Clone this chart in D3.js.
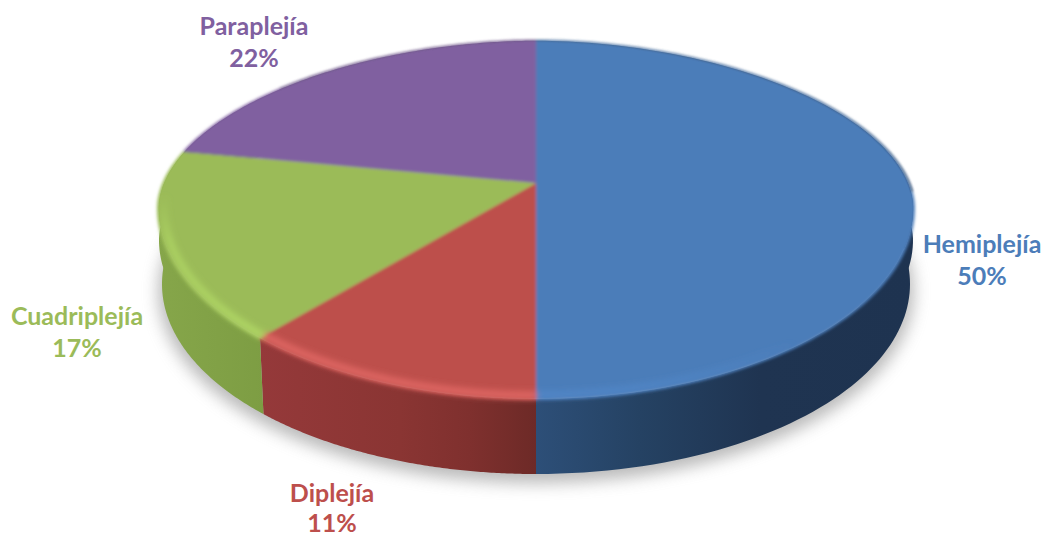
<!DOCTYPE html>
<html lang="es">
<head>
<meta charset="utf-8">
<title>Tipos de parálisis</title>
<script src="https://cdn.jsdelivr.net/npm/d3@7"></script>
<style>
  html, body { margin: 0; padding: 0; background: #fff; }
  svg { display: block; }
  text { font-family: Lato, "Open Sans", sans-serif; font-weight: 700; text-anchor: middle; }
</style>
</head>
<body>
<svg id="chart" width="1043" height="536"></svg>
<script>
// Clockwise from twelve o'clock.
const categories = ["Hemiplejía", "Diplejía", "Cuadriplejía", "Paraplejía"];
const percents = [50, 11, 17, 22];
const colors = ["#4c7db9", "#bd4f4c", "#9bbb59", "#8060a0"];

// Horizontal shading of the outer wall: [x, colour]
const wallStops = [
  [[536, "#2d4f78"], [640, "#254263"], [760, "#1f3451"], [915, "#1e3350"]],
  [[260, "#95393a"], [400, "#8a3533"], [470, "#7f302e"], [536, "#6d2a27"]],
  [[157, "#86a64a"], [266, "#7d9d43"]],
  [[157, "#5d4676"], [536, "#5d4676"]]
];

// Rim highlight of each slice, faded vertically: [y, opacity]
const rimColors = ["#5a96de", "#e56a66", "#b0d765", "#8060a0"];
const rimStops = [
  [[340, 0], [400, 0.4]],
  [[330, 0.9], [400, 0.9]],
  [[195, 0], [240, 0.8], [330, 1]],
  [[0, 0], [500, 0]]
];
const rimRadius = [0.975, 0.978, 0.982, 0.97];

// Label layout: centre x and the baselines of the two lines
const labelX = [982, 332, 77, 254];
const labelY = [[253, 285], [502, 532], [325, 357], [35, 67]];
const labelSize = 25;

const svg = d3.select("#chart");
const defs = svg.append("defs");

// Foreshortened directions of the pie's radii on the tilted disc
const rayX = d3.scaleLinear().domain([-1, 1]).range([-371, 371]);
const rayY = d3.scaleLinear().domain([-1, 1]).range([172.4, -172.4]);

// One ring of the drum: radii leave the ring's apex and stop at its outline.
function ring({ cx, cy, rx, up, down, apexY, curve }) {
  const inside = (x, y) => {
    const ny = (y - cy) / (y < cy ? up : down);
    const e = y < cy ? curve : 2;
    return Math.pow(Math.abs((x - cx) / rx), e) + Math.pow(Math.abs(ny), e) <= 1;
  };
  return (angle, r = 1) => {
    const dx = rayX(Math.sin(angle)), dy = rayY(Math.cos(angle));
    let lo = 0, hi = 3;
    for (let i = 0; i < 30; i++) {
      const t = (lo + hi) / 2;
      if (inside(cx + t * dx, apexY + t * dy)) lo = t; else hi = t;
    }
    return [cx + lo * r * dx, apexY + lo * r * dy];
  };
}
const face = ring({ cx: 536, cy: 208, rx: 379, up: 168, down: 192, apexY: 183, curve: 1.9 });
const shoulder = ring({ cx: 536, cy: 240, rx: 377, up: 168, down: 185, apexY: 215, curve: 1.9 });
const base = ring({ cx: 536, cy: 284, rx: 374, up: 190, down: 190, apexY: 261, curve: 2 });

const line = d3.line();
const arcPoints = (proj, a0, a1, r = 1) =>
  d3.range(0, 121).map(i => proj(a0 + (a1 - a0) * i / 120, r));

const slices = d3.pie().sort(null).value(d => d)(percents);
const fullTurn = [0, 2 * Math.PI];

function addBlur(id, dev) {
  defs.append("filter").attr("id", id)
    .attr("filterUnits", "userSpaceOnUse")
    .attr("x", 0).attr("y", 0).attr("width", 1043).attr("height", 536)
    .append("feGaussianBlur").attr("stdDeviation", dev);
}
addBlur("blurShadow", 8);
addBlur("blurRim", 3.2);
addBlur("blurFace", 1.4);
addBlur("blurEdge", 1);

// The rounded upper band of the wall only shows at the far left and right
const sides = defs.append("clipPath").attr("id", "wallSides");
sides.append("rect").attr("x", 0).attr("y", 0).attr("width", 220).attr("height", 536);
sides.append("rect").attr("x", 860).attr("y", 0).attr("width", 183).attr("height", 536);

slices.forEach((s, i) => {
  const wall = defs.append("linearGradient").attr("id", "wall" + i)
    .attr("gradientUnits", "userSpaceOnUse")
    .attr("x1", wallStops[i][0][0]).attr("x2", wallStops[i][wallStops[i].length - 1][0])
    .attr("y1", 0).attr("y2", 0);
  const x0 = wallStops[i][0][0], span = wallStops[i][wallStops[i].length - 1][0] - x0;
  wall.selectAll("stop").data(wallStops[i]).join("stop")
    .attr("offset", d => (d[0] - x0) / span)
    .attr("stop-color", d => d[1]);

  const rim = defs.append("linearGradient").attr("id", "rim" + i)
    .attr("gradientUnits", "userSpaceOnUse")
    .attr("x1", 0).attr("x2", 0)
    .attr("y1", rimStops[i][0][0]).attr("y2", rimStops[i][rimStops[i].length - 1][0]);
  const y0 = rimStops[i][0][0], ySpan = rimStops[i][rimStops[i].length - 1][0] - y0;
  rim.selectAll("stop").data(rimStops[i]).join("stop")
    .attr("offset", d => (d[0] - y0) / ySpan)
    .attr("stop-color", rimColors[i])
    .attr("stop-opacity", d => d[1]);
});

const edgeFade = defs.append("linearGradient").attr("id", "edgeFade")
  .attr("gradientUnits", "userSpaceOnUse")
  .attr("x1", 0).attr("x2", 0).attr("y1", 40).attr("y2", 250);
edgeFade.selectAll("stop")
  .data([[0, "#7a7a7a", 0.3], [0.5, "#3a4656", 0.45], [0.85, "#1c2a3c", 0.85], [1, "#1c2a3c", 0]])
  .join("stop")
  .attr("offset", d => d[0])
  .attr("stop-color", d => d[1])
  .attr("stop-opacity", d => d[2]);

// Soft shadow under the drum
svg.append("path")
  .attr("d", line(arcPoints(base, fullTurn[0], fullTurn[1], 1.01)) + "Z")
  .attr("transform", "translate(0,7)")
  .attr("fill", "#8c8c8c")
  .attr("opacity", 0.6)
  .attr("filter", "url(#blurShadow)");

// Outer wall of each slice; the extra upper band keeps the silhouette rounded
const walls = svg.append("g").selectAll("g").data(slices).join("g")
  .attr("fill", (d, i) => `url(#wall${i})`);
walls.append("path").attr("d", d => line([
  ...arcPoints(face, d.startAngle, d.endAngle, 0.995),
  ...arcPoints(base, d.endAngle, d.startAngle)
]) + "Z");
walls.append("path")
  .attr("clip-path", "url(#wallSides)")
  .attr("d", d => line([
    ...arcPoints(face, d.startAngle, d.endAngle, 0.995),
    ...arcPoints(shoulder, d.endAngle, d.startAngle)
  ]) + "Z");

// Upper face: one wedge per slice
svg.append("g").attr("filter", "url(#blurFace)")
  .selectAll("path").data(slices).join("path")
  .attr("d", d => line([face(0, 0, 0), ...arcPoints(face, d.startAngle, d.endAngle)]) + "Z")
  .attr("fill", (d, i) => colors[i]);

// Light bevel following the rim of the face
svg.append("g").attr("filter", "url(#blurRim)")
  .selectAll("path").data(slices).join("path")
  .attr("d", (d, i) => line(arcPoints(face, d.startAngle, d.endAngle, rimRadius[i])))
  .attr("fill", "none")
  .attr("stroke", (d, i) => `url(#rim${i})`)
  .attr("stroke-width", 7);

// Thin dark outline on the right side of the rim, fading over the far edge
svg.append("path")
  .attr("d", line(arcPoints(face, -0.9, 1.62)))
  .attr("fill", "none")
  .attr("stroke", "url(#edgeFade)")
  .attr("stroke-width", 1.4)
  .attr("filter", "url(#blurEdge)");

// Two-line labels in the colour of their slice
const labels = svg.append("g").selectAll("text").data(slices).join("text")
  .attr("font-size", labelSize)
  .attr("fill", (d, i) => colors[i]);
labels.append("tspan")
  .attr("x", (d, i) => labelX[i]).attr("y", (d, i) => labelY[i][0])
  .text((d, i) => categories[i]);
labels.append("tspan")
  .attr("x", (d, i) => labelX[i]).attr("y", (d, i) => labelY[i][1])
  .text(d => d.value + "%");
</script>
</body>
</html>
